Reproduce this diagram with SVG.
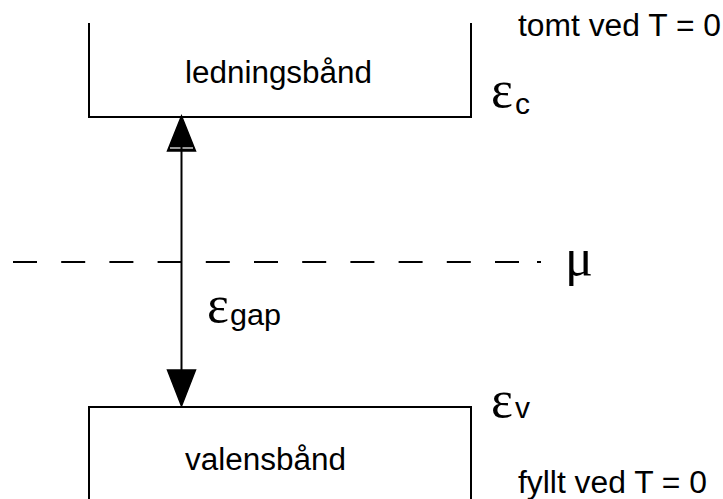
<svg xmlns="http://www.w3.org/2000/svg" width="723" height="499" viewBox="0 0 723 499">
<style>
.ln{stroke:#000;stroke-width:2;fill:none}
.t{font-family:"Liberation Sans",Arial,sans-serif;font-size:31px;fill:#000}
.g{font-family:"Liberation Serif","Times New Roman",serif;font-size:52px;fill:#000}
.s{font-family:"Liberation Sans",Arial,sans-serif;font-size:30px;fill:#000}
</style>
<rect width="723" height="499" fill="#fff"/>
<g id="ledningsband">
<path class="ln" d="M89,23 V117 H471 V23"/>
<text class="t" x="185" y="83" textLength="187" lengthAdjust="spacingAndGlyphs">ledningsbånd</text>
<text class="t" x="518" y="36" textLength="203" lengthAdjust="spacingAndGlyphs">tomt ved T = 0</text>
<text class="g" x="491" y="107">ε</text><text class="s" x="515" y="114">c</text>
</g>
<g id="valensband">
<path class="ln" d="M89,499 V407 H471 V499"/>
<text class="t" x="185" y="470" textLength="161" lengthAdjust="spacingAndGlyphs">valensbånd</text>
<text class="t" x="518" y="493" textLength="189" lengthAdjust="spacingAndGlyphs">fyllt ved T = 0</text>
<text class="g" x="491" y="417">ε</text><text class="s" x="515" y="418">v</text>
</g>
<g id="mu">
<text class="g" x="565" y="275">μ</text>
</g>
<g id="gap-label">
<text class="g" x="207" y="322">ε</text><text class="s" x="230" y="325" textLength="51" lengthAdjust="spacingAndGlyphs">gap</text>
</g>
<g id="connectors">
<path class="ln" d="M13,262h24M61.2,262h24M109.4,262h24M157.6,262h24M205.8,262h24M254,262h24M302.2,262h24M350.4,262h24M398.6,262h24M446.8,262h24M495,262h24M537,262h4"/>
<polygon points="181.5,116 167.5,151 195.5,151" fill="#000" stroke="#000" stroke-width="1.5"/>
<line x1="170" y1="148" x2="193" y2="148" stroke="#fff" stroke-width="1.2"/>
<line class="ln" x1="181.5" y1="140" x2="181.5" y2="372"/>
<polygon points="181.5,406 167.5,370 195.5,370" fill="#000" stroke="#000" stroke-width="1.5"/>
</g>
</svg>
